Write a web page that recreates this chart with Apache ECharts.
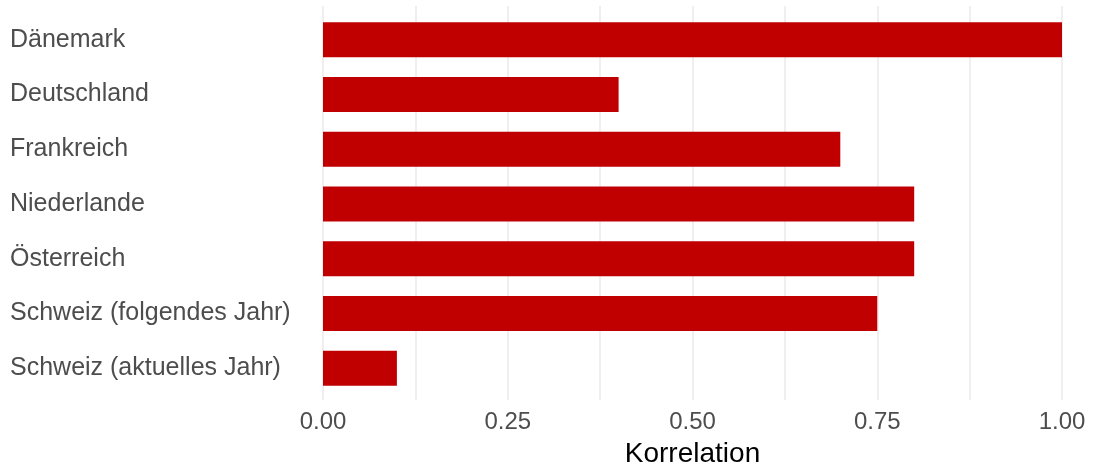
<!DOCTYPE html>
<html>
<head>
<meta charset="utf-8">
<script src="https://cdn.jsdelivr.net/npm/echarts@6/dist/echarts.min.js"></script>
<style>
  html, body { margin: 0; padding: 0; background: #fff; }
  #chart { width: 1094px; height: 466px; }
</style>
</head>
<body>
<div id="chart"></div>
<script>
const countries = [
  "Dänemark",
  "Deutschland",
  "Frankreich",
  "Niederlande",
  "Österreich",
  "Schweiz (folgendes Jahr)",
  "Schweiz (aktuelles Jahr)"
];
const korrelation = [1.0, 0.4, 0.7, 0.8, 0.8, 0.75, 0.1];
const xTicks = [0, 0.25, 0.5, 0.75, 1.0];

const chart = echarts.init(document.getElementById("chart"));
const font = "Liberation Sans, Arial, sans-serif";

chart.setOption({
  animation: false,
  grid: [
    // panel with gridlines (ggplot-like expanded panel)
    { left: 323, right: 32, top: 6, bottom: 66, outerBoundsMode: "none", containLabel: false },
    // bars
    { left: 323, right: 32, top: 12.5, bottom: 70.5, outerBoundsMode: "none", containLabel: false }
  ],
  xAxis: [
    {
      gridIndex: 0,
      type: "value",
      min: xTicks[0],
      max: xTicks[xTicks.length - 1],
      interval: 0.25,
      axisLine: { show: false },
      axisTick: { show: false },
      axisLabel: {
        color: "#4d4d4d",
        fontFamily: font,
        fontSize: 24,
        margin: 10,
        formatter: v => v.toFixed(2)
      },
      splitLine: { show: true, lineStyle: { color: "#ebebeb", width: 1.6 } },
      minorTick: { show: false, splitNumber: 2 },
      minorSplitLine: { show: true, lineStyle: { color: "#ebebeb", width: 1.6 } },
      name: "Korrelation",
      nameLocation: "middle",
      nameGap: 40,
      nameTextStyle: { color: "#000", fontFamily: font, fontSize: 28 }
    },
    {
      gridIndex: 1,
      type: "value",
      min: 0,
      max: 1,
      show: false
    }
  ],
  yAxis: [
    { gridIndex: 0, type: "value", show: false, min: 0, max: 1 },
    {
      gridIndex: 1,
      type: "category",
      data: countries,
      inverse: true,
      axisLine: { show: false },
      axisTick: { show: false },
      splitLine: { show: false },
      axisLabel: {
        align: "left",
        margin: 313,
        color: "#4d4d4d",
        fontFamily: font,
        fontSize: 25
      }
    }
  ],
  series: [
    {
      type: "bar",
      xAxisIndex: 1,
      yAxisIndex: 1,
      data: korrelation,
      barWidth: "64%",
      itemStyle: { color: "#c00000" }
    }
  ]
});
</script>
</body>
</html>
